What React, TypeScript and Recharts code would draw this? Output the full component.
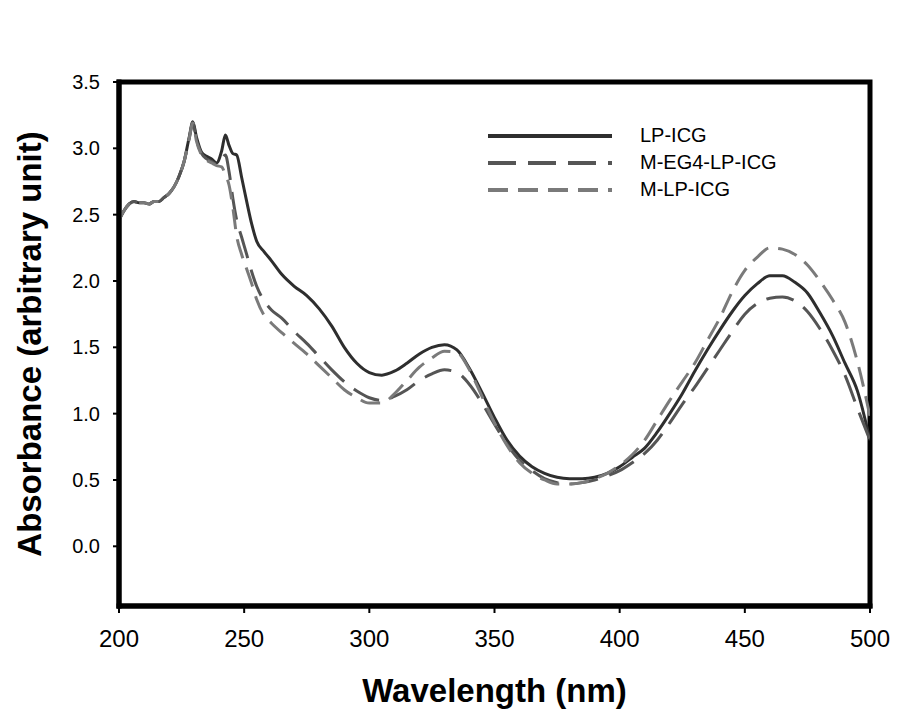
import React from "react";
import { LineChart, Line, XAxis, YAxis, Legend, Label, ReferenceArea } from "recharts";

// wavelength (nm)
const wavelengths = [
  200, 202, 204, 206, 208, 210, 212, 214, 216, 218, 220, 222, 224, 226, 228, 229.5,
  231, 233, 235, 237, 239, 241, 242.5, 244, 245.5, 247, 249, 251, 253, 255, 258, 261,
  265, 270, 275, 280, 285, 290, 295, 300, 305, 310, 315, 320, 325, 330, 335, 340, 345,
  350, 355, 360, 365, 370, 375, 380, 385, 390, 395, 400, 405, 410, 415, 420, 425, 430,
  435, 440, 445, 450, 455, 460, 465, 470, 475, 480, 485, 490, 495, 500,
];

const lpIcg = [
  2.46, 2.53, 2.58, 2.6, 2.59, 2.59, 2.58, 2.6, 2.6, 2.63, 2.66, 2.71, 2.79, 2.9, 3.08, 3.2,
  3.08, 2.97, 2.94, 2.92, 2.89, 2.98, 3.1, 3.02, 2.96, 2.95, 2.78, 2.6, 2.43, 2.3, 2.22, 2.15,
  2.05, 1.96, 1.89, 1.79, 1.66, 1.5, 1.38, 1.31, 1.29, 1.32, 1.38, 1.45, 1.5, 1.52, 1.48, 1.34, 1.16,
  0.97, 0.8, 0.68, 0.6, 0.55, 0.52, 0.51, 0.51, 0.52, 0.55, 0.6, 0.67, 0.74, 0.86, 1.0, 1.15, 1.32,
  1.48, 1.63, 1.77, 1.89, 1.98, 2.04, 2.04, 1.99, 1.91, 1.76, 1.59, 1.38, 1.17, 0.8,
];

const mEg4LpIcg = [
  2.46, 2.53, 2.58, 2.6, 2.59, 2.59, 2.58, 2.6, 2.6, 2.63, 2.66, 2.71, 2.79, 2.9, 3.07, 3.19,
  3.06, 2.96, 2.92, 2.9, 2.88, 2.92, 2.95, 2.82, 2.62, 2.46, 2.33, 2.2, 2.07, 1.96, 1.85, 1.78,
  1.72, 1.62, 1.53, 1.43, 1.33, 1.24, 1.17, 1.12, 1.1, 1.13, 1.18, 1.25, 1.3, 1.33, 1.31, 1.22, 1.08,
  0.92, 0.77, 0.65, 0.57, 0.51, 0.48, 0.47, 0.48, 0.5, 0.53, 0.57, 0.63, 0.7, 0.8, 0.93, 1.07, 1.2,
  1.34, 1.48, 1.62, 1.75, 1.83, 1.87, 1.88, 1.85, 1.77, 1.64, 1.48, 1.29, 1.04, 0.8,
];

const mLpIcg = [
  2.46, 2.53, 2.58, 2.6, 2.59, 2.59, 2.58, 2.6, 2.6, 2.63, 2.66, 2.71, 2.79, 2.9, 3.07, 3.19,
  3.05, 2.95, 2.91, 2.89, 2.87, 2.86, 2.8, 2.72, 2.55, 2.34, 2.2, 2.09, 1.98, 1.86, 1.74, 1.68,
  1.61, 1.53, 1.45, 1.36, 1.27, 1.18, 1.12, 1.08, 1.08, 1.15, 1.25, 1.35, 1.42, 1.47, 1.46, 1.33, 1.13,
  0.93, 0.76, 0.63, 0.55, 0.5, 0.47, 0.47, 0.48, 0.51, 0.55, 0.61, 0.69, 0.8, 0.95, 1.1, 1.24, 1.38,
  1.55, 1.72, 1.92, 2.08, 2.18, 2.25, 2.24, 2.2, 2.12, 2.0, 1.86, 1.69, 1.39, 0.98,
];

const xTicks = [200, 250, 300, 350, 400, 450, 500];
const yTicks = [0, 0.5, 1, 1.5, 2, 2.5, 3, 3.5];

const seriesNames = ["LP-ICG", "M-EG4-LP-ICG", "M-LP-ICG"];

const data = wavelengths.map((wl, i) => ({
  wl,
  lp: lpIcg[i],
  eg4: mEg4LpIcg[i],
  mlp: mLpIcg[i],
}));

const FONT = "'Liberation Sans', Arial, sans-serif";

const styles = [
  { key: "lp", color: "#2e2e2e", dash: undefined as string | undefined },
  { key: "eg4", color: "#555555", dash: "28 12" },
  { key: "mlp", color: "#7a7a7a", dash: "20 10" },
];

const renderLegend = () => (
  <div style={{ fontFamily: FONT, fontSize: 20, color: "#000" }}>
    {seriesNames.map((name, i) => (
      <div key={name} style={{ display: "flex", alignItems: "center", height: 27 }}>
        <svg width={124} height={6} style={{ display: "block" }}>
          <line
            x1={0}
            y1={3}
            x2={124}
            y2={3}
            stroke={styles[i].color}
            strokeWidth={4}
            strokeDasharray={styles[i].dash}
          />
        </svg>
        <span style={{ marginLeft: 28, lineHeight: "27px" }}>{name}</span>
      </div>
    ))}
  </div>
);

const axisLine = { stroke: "#000", strokeWidth: 5, strokeLinecap: "square" as const };

export default function App() {
  return (
    <div style={{ position: "absolute", left: 0, top: 0, background: "#fff" }}>
      <LineChart
        width={914}
        height={719}
        data={data}
        margin={{ top: 82, right: 44, left: 9, bottom: 13 }}
      >
        <XAxis
          dataKey="wl"
          type="number"
          domain={[200, 500]}
          ticks={xTicks}
          interval={0}
          allowDataOverflow
          height={100}
          axisLine={axisLine}
          tickLine={{ stroke: "#000", strokeWidth: 2 }}
          tickSize={7}
          tickMargin={17}
          tick={{ fill: "#000", fontSize: 24, fontFamily: FONT }}
        >
          <Label
            value="Wavelength (nm)"
            position="insideBottom"
            offset={4}
            style={{ fontFamily: FONT, fontSize: 33, fontWeight: "bold", fill: "#000" }}
          />
        </XAxis>
        <YAxis
          type="number"
          domain={[-0.45, 3.5]}
          ticks={yTicks}
          interval={0}
          allowDataOverflow
          width={110}
          axisLine={axisLine}
          tickLine={{ stroke: "#000", strokeWidth: 2 }}
          tickSize={6}
          tickMargin={13}
          tickFormatter={(v: number) => v.toFixed(1)}
          tick={{ fill: "#000", fontSize: 20, fontFamily: FONT }}
        >
          <Label
            value="Absorbance (arbitrary unit)"
            angle={-90}
            position="insideLeft"
            offset={20}
            style={{
              fontFamily: FONT,
              fontSize: 33,
              fontWeight: "bold",
              fill: "#000",
              textAnchor: "middle",
            }}
          />
        </YAxis>
        <ReferenceArea
          x1={200}
          x2={500}
          y1={-0.45}
          y2={3.5}
          fill="none"
          fillOpacity={0}
          stroke="#000"
          strokeWidth={5}
          ifOverflow="visible"
        />
        {styles.map((s, i) => (
          <Line
            key={s.key}
            dataKey={s.key}
            name={seriesNames[i]}
            type="monotone"
            stroke={s.color}
            strokeWidth={3}
            strokeDasharray={s.dash}
            dot={false}
            isAnimationActive={false}
          />
        ))}
        <Legend
          content={renderLegend}
          layout="horizontal"
          verticalAlign="middle"
          align="center"
          wrapperStyle={{ position: "absolute", left: 488, top: 122, width: "auto" }}
        />
      </LineChart>
    </div>
  );
}
